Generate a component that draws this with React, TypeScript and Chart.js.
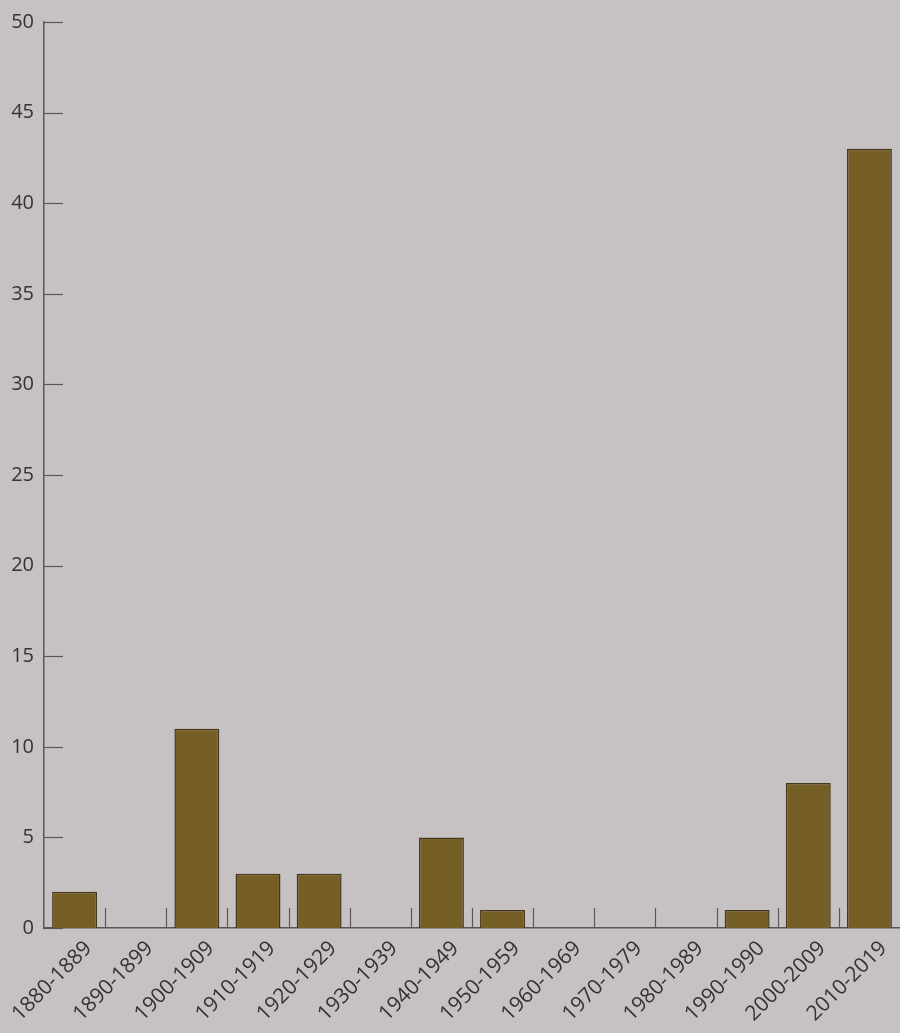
import React, { useEffect, useRef } from "react";
import { Chart, registerables } from "chart.js";

Chart.register(...registerables);

const categories = [
  "1880-1889", "1890-1899", "1900-1909", "1910-1919", "1920-1929", "1930-1939", "1940-1949",
  "1950-1959", "1960-1969", "1970-1979", "1980-1989", "1990-1990", "2000-2009", "2010-2019",
];
const counts = [2, 0, 11, 3, 3, 0, 5, 1, 0, 0, 0, 1, 8, 43];
const yMin = 0;
const yMax = 50;
const yStep = 5;

const BG = "#c6c2c3";
const AXIS = "#5b5657";
const TEXT = "#3a3031";

const decorPlugin = {
  id: "decor",
  beforeDraw(chart: any) {
    const { ctx, width, height } = chart;
    ctx.save();
    ctx.fillStyle = BG;
    ctx.fillRect(0, 0, width, height);
    ctx.restore();
  },
  afterDraw(chart: any) {
    const { ctx, chartArea } = chart;
    const y = chart.scales.y;
    const x = chart.scales.x;
    ctx.save();
    ctx.strokeStyle = AXIS;
    ctx.lineWidth = 1.2;
    for (let v = yMin; v <= yMax; v += yStep) {
      const py = Math.round(y.getPixelForValue(v)) + 0.5;
      ctx.beginPath();
      ctx.moveTo(chartArea.left, py);
      ctx.lineTo(chartArea.left + 19, py);
      ctx.stroke();
    }
    for (let i = 1; i < categories.length; i++) {
      const px = Math.round((x.getPixelForValue(i - 1) + x.getPixelForValue(i)) / 2) + 0.5;
      ctx.beginPath();
      ctx.moveTo(px, chartArea.bottom);
      ctx.lineTo(px, chartArea.bottom - 20);
      ctx.stroke();
    }
    ctx.restore();
  },
};

export default function App() {
  const ref = useRef<HTMLCanvasElement | null>(null);
  useEffect(() => {
    if (!ref.current) return;
    const chart = new Chart(ref.current, {
      type: "bar",
      data: {
        labels: categories,
        datasets: [
          {
            data: counts,
            backgroundColor: "#765f27",
            borderColor: "#45381a",
            borderWidth: 1.5,
            barPercentage: 0.735,
            categoryPercentage: 1,
          },
        ],
      },
      options: {
        responsive: false,
        animation: false,
        layout: { padding: { top: 22, right: 0, left: 0, bottom: 0 } },
        plugins: { legend: { display: false }, tooltip: { enabled: false } },
        scales: {
          x: {
            grid: { display: false, drawTicks: false },
            border: { display: true, color: AXIS, width: 1.5 },
            ticks: {
              color: TEXT,
              font: { family: "'Open Sans', sans-serif", size: 21 },
              maxRotation: 45,
              minRotation: 45,
              padding: 8,
              labelOffset: 14,
              autoSkip: false,
            },
            afterFit(scale: any) {
              scale.height = 105;
              scale.paddingLeft = 0;
              scale.paddingRight = 0;
            },
          },
          y: {
            min: yMin,
            max: yMax,
            grid: { display: false, drawTicks: false },
            border: { display: true, color: AXIS, width: 1.5 },
            ticks: {
              stepSize: yStep,
              color: TEXT,
              padding: 10,
              font: { family: "'Open Sans', sans-serif", size: 20 },
            },
            afterFit(scale: any) {
              scale.width = 44;
            },
          },
        },
      },
      plugins: [decorPlugin],
    });
    return () => chart.destroy();
  }, []);
  return (
    <div style={{ position: "absolute", left: 0, top: 0, width: 900, height: 1033, background: BG }}>
      <canvas ref={ref} width={900} height={1033} style={{ display: "block" }} />
    </div>
  );
}
